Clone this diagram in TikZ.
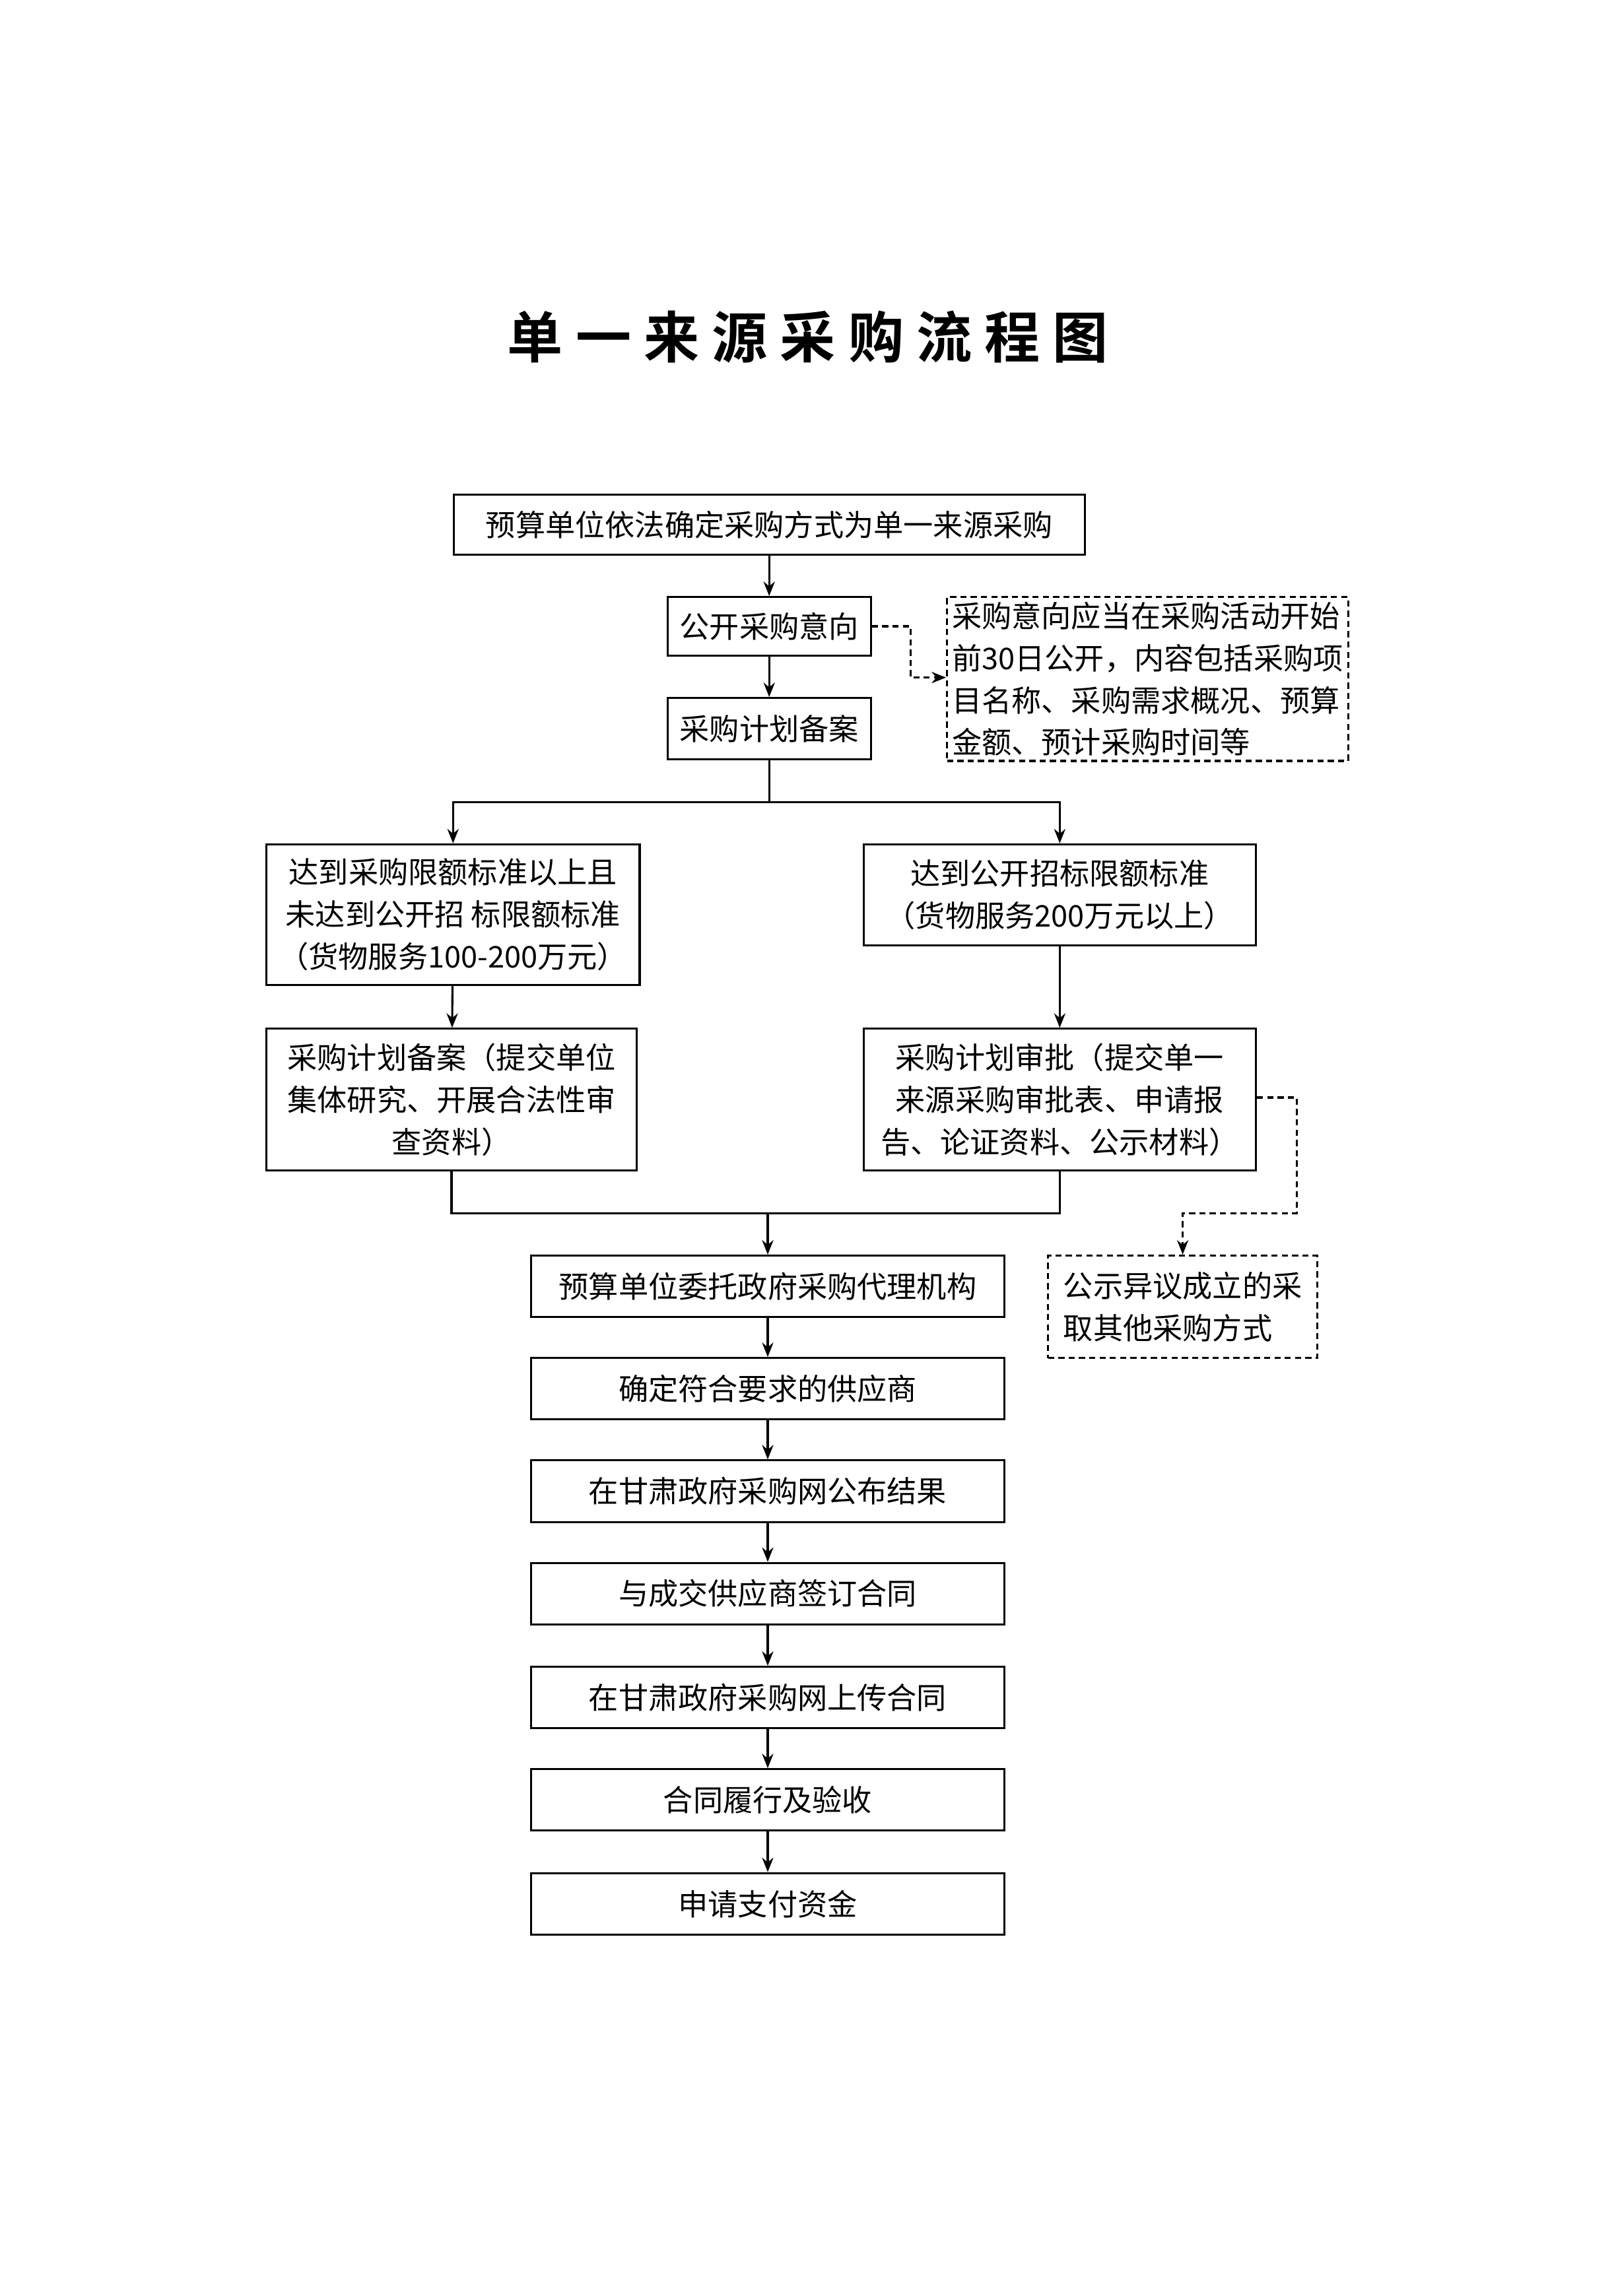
\documentclass[tikz,border=0pt]{standalone}
\usepackage{fontspec}
\setmainfont{Noto Sans CJK SC}
\newfontfamily\titlefont{Noto Sans CJK SC Bold}
\usetikzlibrary{arrows.meta}
\tikzset{
  box/.style={draw, line width=2pt, inner sep=0pt, align=center, font=\fontsize{29}{41}\selectfont},
  note/.style={box, dashed, dash pattern=on 6pt off 4pt, align=left},
  link/.style={line width=2pt, -{Stealth[length=14pt,width=11pt]}},
  plain/.style={line width=2pt},
  dlink/.style={link, dashed, dash pattern=on 6pt off 4pt},
}
\begin{document}
\begin{tikzpicture}[x=0.05cm, y=-0.05cm]
\useasboundingbox (0,0) rectangle (1104,1569);
% title
\node[font=\titlefont\fontsize{54}{60}\selectfont] (title) at (552,230) {单\ 一\ 来\ 源\ 采\ 购\ 流\ 程\ 图};
% top chain
\node[box, minimum width=431*0.05cm, minimum height=41*0.05cm] (start) at (525.5,358.5) {预算单位依法确定采购方式为单一来源采购};
\node[box, minimum width=139*0.05cm, minimum height=40*0.05cm] (intent) at (525.5,428) {公开采购意向};
\node[box, minimum width=139*0.05cm, minimum height=42*0.05cm] (file) at (525.5,498) {采购计划备案};
\node[note, minimum width=274*0.05cm, minimum height=112*0.05cm] (intnote) at (784,464) {采购意向应当在采购活动开始\\前30日公开，内容包括采购项\\目名称、采购需求概况、预算\\金额、预计采购时间等};
% branches
\node[box, minimum width=255*0.05cm, minimum height=96*0.05cm] (low) at (309.5,625) {达到采购限额标准以上且\\未达到公开招 标限额标准\\（货物服务100-200万元）};
\node[box, minimum width=268*0.05cm, minimum height=69*0.05cm] (high) at (724,611.5) {达到公开招标限额标准\\（货物服务200万元以上）};
\node[box, minimum width=253*0.05cm, minimum height=97*0.05cm] (lowfile) at (308.5,751.5) {采购计划备案（提交单位\\集体研究、开展合法性审\\查资料）};
\node[box, minimum width=268*0.05cm, minimum height=97*0.05cm] (highok) at (724,751.5) {采购计划审批（提交单一\\来源采购审批表、申请报\\告、论证资料、公示材料）};
\node[note, minimum width=184*0.05cm, minimum height=70*0.05cm] (objnote) at (808,893) {公示异议成立的采\\取其他采购方式};
% bottom chain
\foreach \n/\y/\t in {agent/879/预算单位委托政府采购代理机构, supp/949/确定符合要求的供应商, pub/1019/在甘肃政府采购网公布结果, sign/1089/与成交供应商签订合同, upl/1160/在甘肃政府采购网上传合同, acc/1230/合同履行及验收, pay/1301/申请支付资金}
  \node[box, minimum width=323*0.05cm, minimum height=42*0.05cm] (\n) at (524.5,\y) {\t};
% connectors
\draw[link] (start) -- (intent);
\draw[link] (intent) -- (file);
\draw[dlink] (intent.east) -| (622,463) -- (intnote.west |- 0,463);
\coordinate (split) at (525.5,548);
\draw[plain] (file.south) -- (split);
\draw[link] (split) -| (low.north);
\draw[link] (split) -| (high.north);
\draw[link] (low) -- (lowfile);
\draw[link] (high) -- (highok);
\coordinate (merge) at (524.5,829);
\draw[plain] (lowfile.south) |- (merge) -| (highok.south);
\draw[link] (merge) -- (agent.north);
\draw[dlink] (highok.east |- 0,750) -| (886,829) -| (objnote.north);
\draw[link] (agent) -- (supp);
\draw[link] (supp) -- (pub);
\draw[link] (pub) -- (sign);
\draw[link] (sign) -- (upl);
\draw[link] (upl) -- (acc);
\draw[link] (acc) -- (pay);
\end{tikzpicture}
\end{document}
